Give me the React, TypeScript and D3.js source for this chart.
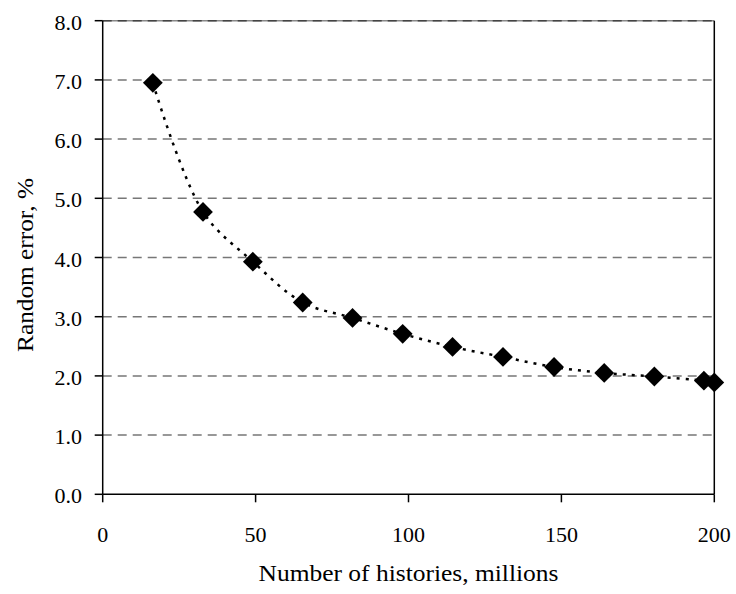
import React from "react";
import * as d3 from "d3";

const histories = [16.4, 32.8, 49.1, 65.4, 81.7, 98.1, 114.4, 130.9, 147.6, 164.0, 180.4, 196.6, 200.0];
const randomError = [6.95, 4.77, 3.93, 3.24, 2.98, 2.71, 2.49, 2.32, 2.15, 2.05, 1.99, 1.92, 1.89];
const xTicks = [0, 50, 100, 150, 200];
const yTicks = [0, 1, 2, 3, 4, 5, 6, 7, 8];
const xTitle = "Number of histories, millions";
const yTitle = "Random error, %";

const W = 736;
const H = 594;
const left = 102.7;
const right = 714.3;
const top = 20.7;
const bottom = 494.3;
const FONT = "'Liberation Serif', 'DejaVu Serif', serif";

function labelWidth(s: string) {
  let w = 0;
  for (const c of s) w += c === "." ? 5.5 : 11;
  return w;
}

export default function App() {
  const x = d3.scaleLinear().domain([0, 200]).range([left, right]);
  const y = d3.scaleLinear().domain([0, 8]).range([bottom, top]);
  const pts = histories.map((h, i) => [x(h), y(randomError[i])] as [number, number]);
  const line = d3.line().curve(d3.curveCatmullRom.alpha(0.5))(pts) || "";
  const diamond = d3.symbol().type(d3.symbolDiamond2).size(250)() || "";
  const ts = { fontFamily: FONT };

  return (
    <svg width={W} height={H} style={{ position: "absolute", left: 0, top: 0, background: "#fff", fontFamily: FONT }}>
      <rect x={0} y={0} width={W} height={H} fill="#fff" />
      {yTicks.filter((t) => t > 0).map((t) => (
        <g key={t}>
          {t === 8 && <line x1={left} x2={right} y1={y(t)} y2={y(t)} stroke="#888" strokeWidth={1.5} />}
          <line
            x1={left}
            x2={right}
            y1={y(t)}
            y2={y(t)}
            stroke={t === 8 ? "#444" : "#777"}
            strokeWidth={1.5}
            strokeDasharray="9,6"
          />
        </g>
      ))}
      <line x1={right} x2={right} y1={top} y2={bottom} stroke="#000" strokeWidth={1.5} />
      <line x1={left} x2={left} y1={top} y2={bottom} stroke="#000" strokeWidth={1.5} />
      <line x1={left} x2={right} y1={bottom} y2={bottom} stroke="#000" strokeWidth={1.5} />
      {yTicks.map((t) => {
        const s = t.toFixed(1);
        return (
          <g key={"y" + t}>
            <line x1={left - 8} x2={left} y1={y(t)} y2={y(t)} stroke="#000" strokeWidth={1.5} />
            <text x={82} y={y(t) + 9} textAnchor="end" fontSize={22} fill="#000" style={ts}
              textLength={labelWidth(s)} lengthAdjust="spacingAndGlyphs">
              {s}
            </text>
          </g>
        );
      })}
      {xTicks.map((t) => {
        const s = String(t);
        return (
          <g key={"x" + t}>
            <line x1={x(t)} x2={x(t)} y1={bottom} y2={bottom + 8} stroke="#000" strokeWidth={1.5} />
            <text x={x(t)} y={542} textAnchor="middle" fontSize={22} fill="#000" style={ts}
              textLength={labelWidth(s)} lengthAdjust="spacingAndGlyphs">
              {s}
            </text>
          </g>
        );
      })}
      <path d={line} fill="none" stroke="#000" strokeWidth={2.5} strokeDasharray="3,6" />
      {pts.map((p, i) => (
        <path key={i} d={diamond} transform={`translate(${p[0]},${p[1]})`} fill="#000" />
      ))}
      <text x={(left + right) / 2} y={581} textAnchor="middle" fontSize={24} fill="#000" style={ts}
        textLength={300} lengthAdjust="spacingAndGlyphs">
        {xTitle}
      </text>
      <text transform={`translate(33,265) rotate(-90)`} textAnchor="middle" fontSize={24} fill="#000" style={ts}
        textLength={174} lengthAdjust="spacingAndGlyphs">
        {yTitle}
      </text>
    </svg>
  );
}
